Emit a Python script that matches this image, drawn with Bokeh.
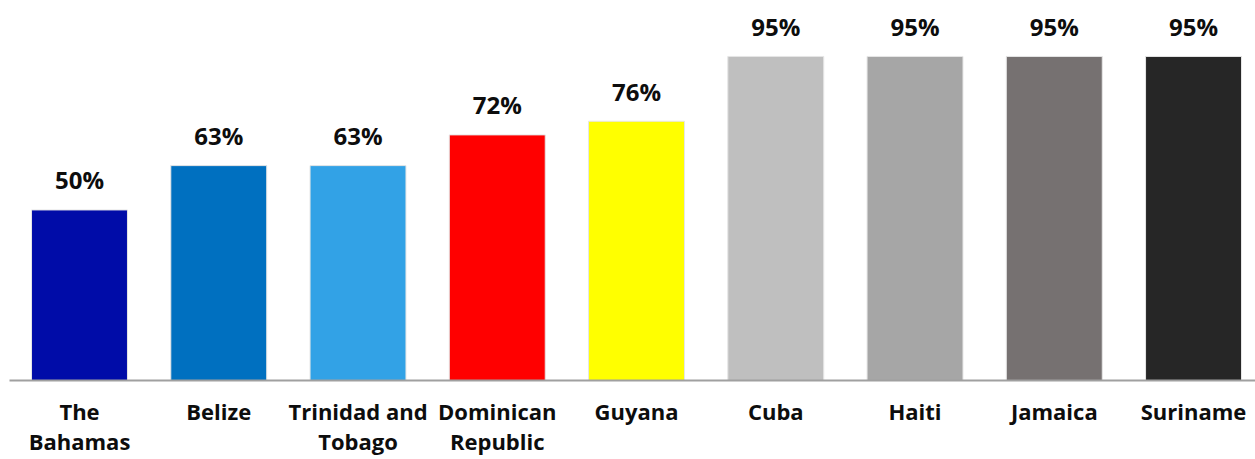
from bokeh.plotting import figure
from bokeh.models import ColumnDataSource, Range1d, FixedTicker
from bokeh.core.properties import value
from bokeh.embed import file_html
from bokeh.resources import INLINE

categories = ["The\nBahamas", "Belize", "Trinidad and\nTobago", "Dominican\nRepublic",
              "Guyana", "Cuba", "Haiti", "Jamaica", "Suriname"]
values = [50, 63, 63, 72, 76, 95, 95, 95, 95]
colors = ["#000CA8", "#0070C0", "#32A2E6", "#FF0000", "#FFFF00",
          "#BFBFBF", "#A6A6A6", "#767171", "#262626"]
labels = [f"{v}%" for v in values]

xs = list(range(len(categories)))
src = ColumnDataSource(dict(x=xs, top=values, color=colors, label=labels))

p = figure(width=1255, height=459, output_backend="svg", toolbar_location=None,
           x_range=Range1d(-0.5027, 8.445), y_range=Range1d(0, 111.4),
           min_border_left=9, min_border_right=0, min_border_top=0, min_border_bottom=79)
p.outline_line_color = None
p.grid.visible = False
p.yaxis.visible = False

p.vbar(x="x", top="top", width=0.689, bottom=0, fill_color="color",
       line_color="#E6E6E6", line_width=1, source=src)

p.text(x="x", y="top", text="label", source=src, text_align="center",
       text_baseline="alphabetic", y_offset=-30, text_font=value("Open Sans"),
       text_font_style="bold", text_font_size="24px", text_color="#0D0D0D")

xa = p.xaxis[0]
xa.ticker = FixedTicker(ticks=xs)
xa.major_label_overrides = {i: c for i, c in zip(xs, categories)}
xa.major_tick_line_color = None
xa.minor_tick_line_color = None
xa.major_tick_out = 0
xa.major_tick_in = 0
xa.axis_line_color = "#A0A0A0"
xa.axis_line_width = 2
xa.major_label_standoff = 15
xa.major_label_text_font = "Open Sans"
xa.major_label_text_font_style = "bold"
xa.major_label_text_font_size = "22px"
xa.major_label_text_color = "#0D0D0D"
xa.major_label_text_line_height = 1.0

open("out.html", "w").write(file_html(p, INLINE))
